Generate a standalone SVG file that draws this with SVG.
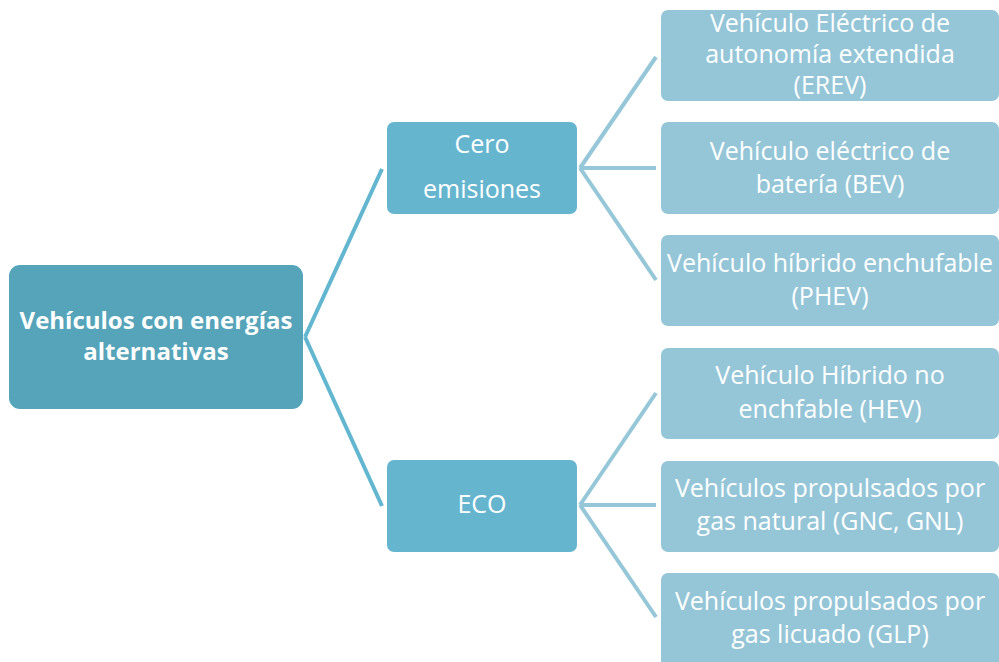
<svg xmlns="http://www.w3.org/2000/svg" width="999" height="662" viewBox="0 0 999 662">
<style>
text{font-family:"Open Sans","Noto Sans","Liberation Sans",sans-serif;fill:#ffffff;text-anchor:middle;font-size:25px}
.root rect{fill:#56a4ba}
.root text{font-weight:bold;font-size:24px}
.l1 rect{fill:#66b5cf}
.l2 rect{fill:#95c6d8}
.c1{stroke:#62b6cf;stroke-width:4;fill:none}
.c2{stroke:#95c7d8;stroke-width:4;fill:none}
</style>
<rect width="999" height="662" fill="#ffffff"/>
<g id="connectors">
<path class="c1" d="M305,337 L382,169"/>
<path class="c1" d="M305,337 L382,506"/>
<path class="c2" d="M580,168 L656,57"/>
<path class="c2" d="M580,168 L656,168"/>
<path class="c2" d="M580,168 L656,280"/>
<path class="c2" d="M580,505 L656,393"/>
<path class="c2" d="M580,505 L656,505"/>
<path class="c2" d="M580,505 L656,617"/>
</g>
<g id="root" class="root">
<rect x="9" y="265" width="294" height="144" rx="11"/>
<text x="156" y="329">Vehículos con energías</text>
<text x="156" y="360">alternativas</text>
</g>
<g id="cero" class="l1">
<rect x="387" y="122" width="190" height="92" rx="7"/>
<text x="482" y="153">Cero</text>
<text x="482" y="198">emisiones</text>
</g>
<g id="eco" class="l1">
<rect x="387" y="460" width="190" height="92" rx="7"/>
<text x="482" y="513">ECO</text>
</g>
<g id="erev" class="l2">
<rect x="661" y="10" width="338" height="91" rx="7"/>
<text x="830" y="32">Vehículo Eléctrico de</text>
<text x="830" y="63">autonomía extendida</text>
<text x="830" y="94">(EREV)</text>
</g>
<g id="bev" class="l2">
<rect x="661" y="122" width="338" height="92" rx="7"/>
<text x="830" y="160">Vehículo eléctrico de</text>
<text x="830" y="193">batería (BEV)</text>
</g>
<g id="phev" class="l2">
<rect x="661" y="235" width="338" height="91" rx="7"/>
<text x="830" y="272">Vehículo híbrido enchufable</text>
<text x="830" y="305">(PHEV)</text>
</g>
<g id="hev" class="l2">
<rect x="661" y="348" width="338" height="91" rx="7"/>
<text x="830" y="384">Vehículo Híbrido no</text>
<text x="830" y="418">enchfable (HEV)</text>
</g>
<g id="gnc" class="l2">
<rect x="661" y="461" width="338" height="91" rx="7"/>
<text x="830" y="497">Vehículos propulsados por</text>
<text x="830" y="530">gas natural (GNC, GNL)</text>
</g>
<g id="glp" class="l2">
<rect x="661" y="573" width="338" height="95" rx="7"/>
<text x="830" y="610">Vehículos propulsados por</text>
<text x="830" y="643">gas licuado (GLP)</text>
</g>
</svg>
